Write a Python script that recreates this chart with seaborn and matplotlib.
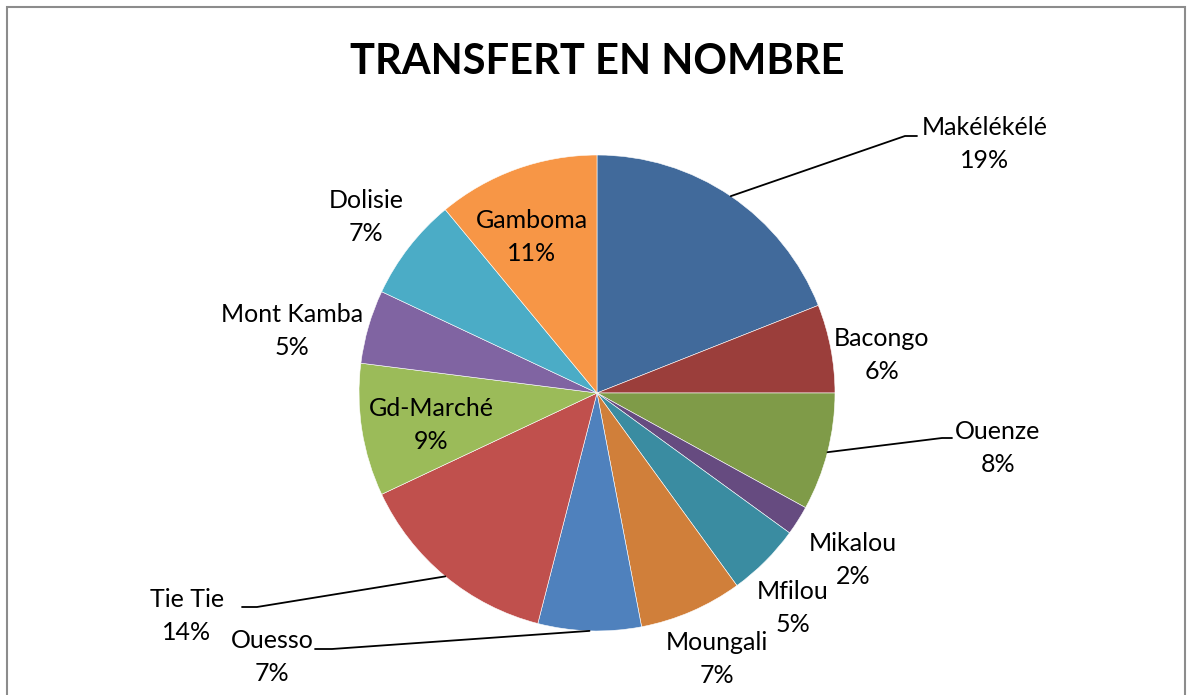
import numpy as np
import seaborn as sns
import matplotlib.pyplot as plt
from matplotlib.patches import Rectangle

# share of transfers per site (%), clockwise from 12 o'clock
sites = ['Makélékélé', 'Bacongo', 'Ouenze', 'Mikalou', 'Mfilou', 'Moungali',
         'Ouesso', 'Tie Tie', 'Gd-Marché', 'Mont Kamba', 'Dolisie', 'Gamboma']
shares = [19, 6, 8, 2, 5, 7, 7, 14, 9, 5, 7, 11]

colors = ['#416A9B', '#9B3E3B', '#7F9B48', '#664B80', '#3A8CA1', '#D07F3A',
          '#4F81BD', '#C0504D', '#9BBB59', '#8064A2', '#4BACC6', '#F79646']

# label placement in pixel space (x, y from top)
label_pos = {
    'Makélékélé': (985, 144), 'Bacongo': (882, 355), 'Ouenze': (998, 448),
    'Mikalou': (853, 560), 'Mfilou': (793, 608), 'Moungali': (717, 659),
    'Ouesso': (272, 657), 'Tie Tie': (187, 616), 'Gd-Marché': (431, 425),
    'Mont Kamba': (292, 331), 'Dolisie': (366, 217), 'Gamboma': (532, 237),
}
# leader lines: elbow point and end point (pixels)
leaders = {
    'Makélékélé': [(905, 136), (917, 136)],
    'Ouenze': [(942, 438), (952, 438)],
    'Tie Tie': [(257, 607), (242, 607)],
    'Ouesso': [(332, 649), (315, 649)],
}

W, H = 1189, 695
sns.set_theme(style='white')
plt.rcParams['font.family'] = ['Lato', 'DejaVu Sans']

fig = plt.figure(figsize=(W / 100, H / 100), dpi=100)
ax = fig.add_axes([0, 0, 1, 1])
ax.set_xlim(0, W)
ax.set_ylim(0, H)
ax.set_aspect('equal')
ax.axis('off')

cx, cy, r = 597, H - 393, 238
wedges, _ = ax.pie(shares, colors=sns.color_palette(colors), startangle=90,
                   counterclock=False, center=(cx, cy), radius=r,
                   wedgeprops=dict(edgecolor='white', linewidth=0.4))
ax.set_xlim(0, W)
ax.set_ylim(0, H)

for name, val, w in zip(sites, shares, wedges):
    x, y = label_pos[name]
    ax.text(x, H - y, f'{name}\n{val}%', ha='center', va='center',
            fontsize=18, linespacing=1.48, color='black')
    if name in leaders:
        mid = np.deg2rad((w.theta1 + w.theta2) / 2)
        pts = [(cx + r * np.cos(mid), cy + r * np.sin(mid))]
        pts += [(px, H - py) for px, py in leaders[name]]
        xs, ys = zip(*pts)
        ax.plot(xs, ys, color='black', linewidth=1.3)

fig.text(597 / W, 1 - 62 / H, 'TRANSFERT EN NOMBRE', ha='center', va='center',
         fontsize=30, fontweight='bold', color='black')

fig.patches.append(Rectangle((7 / W, -0.05), (1185 - 7) / W, 1.05 - 7 / H,
                             transform=fig.transFigure, fill=False,
                             edgecolor='#8c8c8c', linewidth=1.5))

fig.savefig('out.png', dpi=100)
